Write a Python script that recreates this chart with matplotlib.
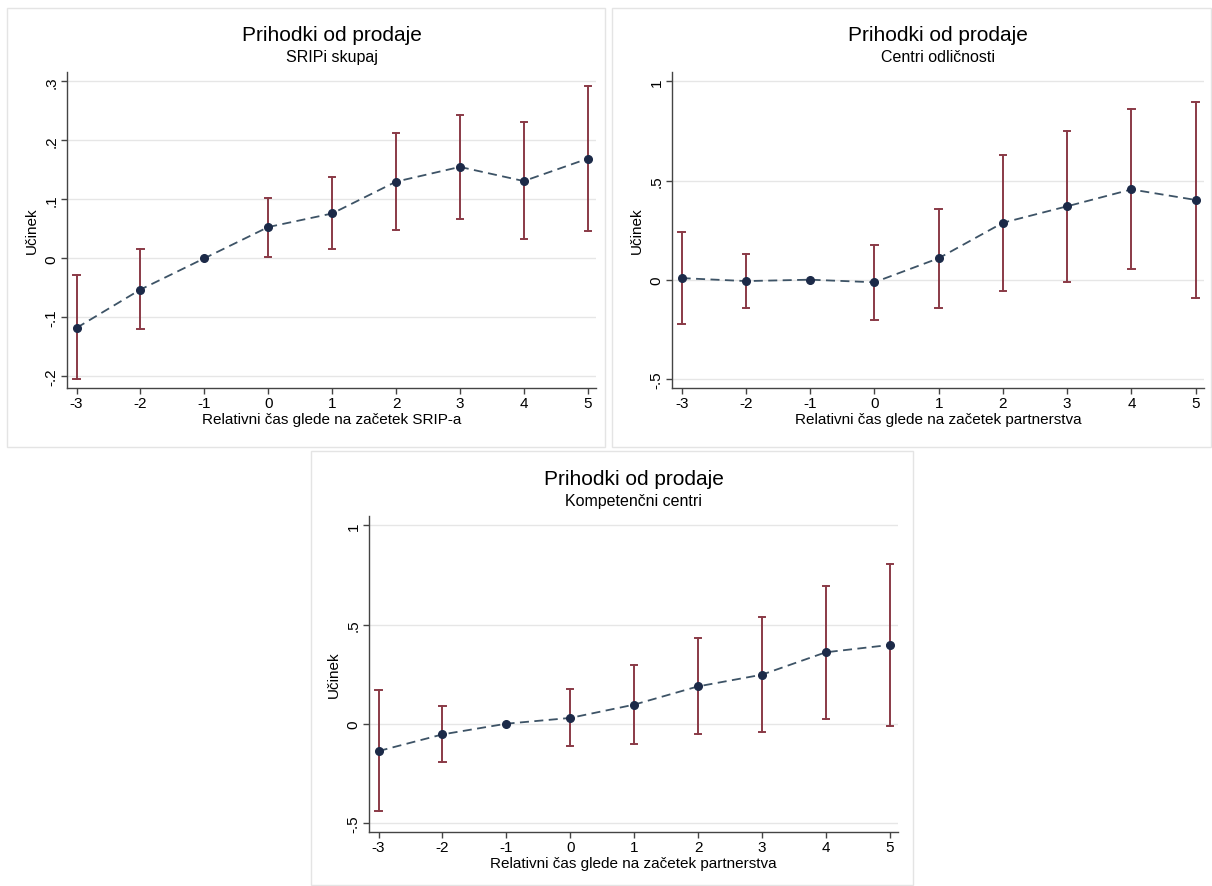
import matplotlib
matplotlib.use("Agg")
import matplotlib.pyplot as plt
from matplotlib.patches import Rectangle

plt.rcParams['font.family'] = ['Liberation Sans', 'DejaVu Sans']

cas = [-3, -2, -1, 0, 1, 2, 3, 4, 5]

# SRIPi skupaj
srip_ucinek = [-0.118, -0.053, 0.0, 0.053, 0.076, 0.130, 0.155, 0.131, 0.169]
srip_zg = [-0.029, 0.015, 0.0, 0.103, 0.138, 0.212, 0.243, 0.231, 0.293]
srip_sp = [-0.204, -0.120, 0.0, 0.003, 0.015, 0.048, 0.067, 0.032, 0.046]

# Centri odličnosti
co_ucinek = [0.008, -0.007, 0.0, -0.013, 0.108, 0.287, 0.370, 0.455, 0.402]
co_zg = [0.240, 0.128, 0.0, 0.176, 0.358, 0.629, 0.751, 0.862, 0.897]
co_sp = [-0.222, -0.141, 0.0, -0.205, -0.143, -0.055, -0.013, 0.054, -0.092]

# Kompetenčni centri
kc_ucinek = [-0.138, -0.054, 0.0, 0.029, 0.096, 0.188, 0.247, 0.360, 0.397]
kc_zg = [0.171, 0.087, 0.0, 0.173, 0.297, 0.430, 0.538, 0.692, 0.807]
kc_sp = [-0.442, -0.195, 0.0, -0.114, -0.104, -0.054, -0.042, 0.025, -0.012]

W, H = 1212, 887
fig = plt.figure(figsize=(W / 100, H / 100), dpi=100)


def px_axes(l, t, r, b):
    return fig.add_axes([l / W, 1 - b / H, (r - l) / W, (b - t) / H])


def okvir(l, t, r, b):
    fig.patches.append(Rectangle((l / W, 1 - b / H), (r - l) / W, (b - t) / H,
                                 transform=fig.transFigure, fill=False,
                                 edgecolor='#e4e4e4', linewidth=1))


def panel(ax, ucinek, zg, sp, podnaslov, xlabel, yticks, ylabels, ylim):
    for x, lo, hi in zip(cas, sp, zg):
        if hi != lo:
            ax.plot([x, x], [lo, hi], color='#8a3a46', linewidth=1.4, zorder=2)
            ax.plot([x - 0.05, x + 0.05], [hi, hi], color='#8a3a46', linewidth=1.4, zorder=2)
            ax.plot([x - 0.05, x + 0.05], [lo, lo], color='#8a3a46', linewidth=1.4, zorder=2)
    ax.plot(cas, ucinek, linestyle=(0, (5, 3)), color='#3d5366', linewidth=1.3, zorder=3)
    ax.plot(cas, ucinek, 'o', color='#1c2a48', markersize=5.5, zorder=4)
    ax.set_xlim(-3.15, 5.13)
    ax.set_ylim(*ylim)
    ax.set_xticks(cas)
    ax.set_xticklabels([str(c) for c in cas], fontsize=11)
    ax.set_yticks(yticks)
    ax.set_yticklabels(ylabels, fontsize=11, rotation=90, va='center')
    for y in yticks:
        ax.axhline(y, color='#e6e6e6', linewidth=1, zorder=1)
    for s in ['top', 'right']:
        ax.spines[s].set_visible(False)
    for s in ['left', 'bottom']:
        ax.spines[s].set_color('#444444')
        ax.spines[s].set_linewidth(1)
    ax.tick_params(length=4, width=1, color='#444444', pad=2)
    ax.set_xlabel(xlabel, fontsize=11, labelpad=1)
    ax.set_ylabel('Učinek', fontsize=11, labelpad=4)
    ax.text(0.5, 1.12, 'Prihodki od prodaje', transform=ax.transAxes,
            ha='center', va='center', fontsize=15)
    ax.text(0.5, 1.048, podnaslov, transform=ax.transAxes,
            ha='center', va='center', fontsize=11.5)


okvir(7, 9, 605, 448)
okvir(612, 9, 1211, 448)
okvir(311, 452, 913, 886)

ax1 = px_axes(67, 73, 596, 389)
panel(ax1, srip_ucinek, srip_zg, srip_sp, 'SRIPi skupaj',
      'Relativni čas glede na začetek SRIP-a',
      [-0.2, -0.1, 0, 0.1, 0.2, 0.3], ['-.2', '-.1', '0', '.1', '.2', '.3'],
      (-0.22, 0.316))

ax2 = px_axes(672, 73, 1204, 389)
panel(ax2, co_ucinek, co_zg, co_sp, 'Centri odličnosti',
      'Relativni čas glede na začetek partnerstva',
      [-0.5, 0, 0.5, 1], ['-.5', '0', '.5', '1'], (-0.546, 1.047))

ax3 = px_axes(369, 517, 898, 833)
panel(ax3, kc_ucinek, kc_zg, kc_sp, 'Kompetenčni centri',
      'Relativni čas glede na začetek partnerstva',
      [-0.5, 0, 0.5, 1], ['-.5', '0', '.5', '1'], (-0.546, 1.047))

fig.savefig('out.png', dpi=100)
